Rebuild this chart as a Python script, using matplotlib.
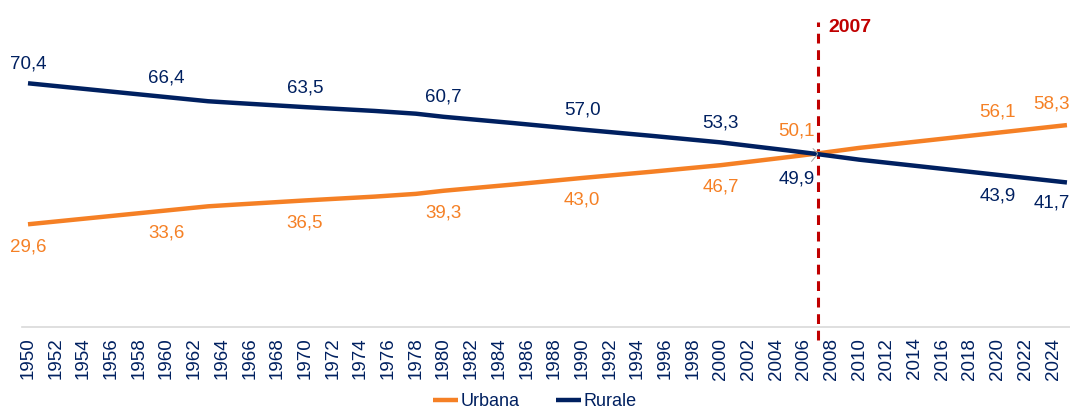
import matplotlib
matplotlib.use("Agg")
import matplotlib.pyplot as plt
import numpy as np

# dati (% della popolazione mondiale)
years = [1950, 1955, 1960, 1963, 1965, 1970, 1975, 1978, 1980, 1985,
         1990, 1995, 2000, 2005, 2007, 2010, 2015, 2020, 2025]
urbana = [29.6, 31.6, 33.6, 34.8, 35.3, 36.5, 37.6, 38.4, 39.3, 41.1,
          43.0, 44.8, 46.7, 49.1, 50.1, 51.7, 53.9, 56.1, 58.3]
rurale = [70.4, 68.4, 66.4, 65.2, 64.7, 63.5, 62.4, 61.6, 60.7, 58.9,
          57.0, 55.2, 53.3, 50.9, 49.9, 48.3, 46.1, 43.9, 41.7]
label_years = [1950, 1960, 1970, 1980, 1990, 2000, 2007, 2020, 2025]
tick_years = list(range(1950, 2025, 2))
anno_chiave = 2007

ORANGE = '#F58025'
NAVY = '#002060'
RED = '#C00000'
FONT = ['Liberation Sans', 'DejaVu Sans']

plt.rcParams['font.family'] = FONT

fig = plt.figure(figsize=(10.7, 4.12), dpi=100)
ax = fig.add_axes([0.0206, 0.2073, 0.9794, 0.755])

ax.plot(years, urbana, color=ORANGE, lw=3.2, solid_capstyle='butt', label='Urbana', zorder=3)
ax.plot(years, rurale, color=NAVY, lw=3.2, solid_capstyle='butt', label='Rurale', zorder=3)

# linea verticale 2007
ax.vlines(anno_chiave, -4, 88, colors=RED, linestyles=(0, (3.2, 2.2)), lw=2.2,
          clip_on=False, zorder=2)
ax.text(anno_chiave + 0.8, 86.5, str(anno_chiave), color=RED, fontsize=14,
        fontweight='bold', ha='left', va='center')

# etichette dei valori
def fmt(v):
    return f"{v:.1f}".replace('.', ',')

LBL = 13.5
for yr in label_years:
    i = years.index(yr)
    u, r = urbana[i], rurale[i]
    if yr == 2007:
        ax.annotate(fmt(u), (yr, u), xytext=(-15, 16), textcoords='offset points',
                    ha='center', va='center', color=ORANGE, fontsize=LBL,
                    arrowprops=dict(arrowstyle='-', color='#A0A0A0', lw=0.7,
                                    shrinkA=6, shrinkB=0))
        ax.annotate(fmt(r), (yr, r), xytext=(-15, -18), textcoords='offset points',
                    ha='center', va='center', color=NAVY, fontsize=LBL,
                    arrowprops=dict(arrowstyle='-', color='#A0A0A0', lw=0.7,
                                    shrinkA=6, shrinkB=0))
    elif yr > 2007:
        dx = -11 if yr == years[-1] else 0
        ax.annotate(fmt(u), (yr, u), xytext=(dx, 15), textcoords='offset points',
                    ha='center', va='center', color=ORANGE, fontsize=LBL)
        ax.annotate(fmt(r), (yr, r), xytext=(dx, -15), textcoords='offset points',
                    ha='center', va='center', color=NAVY, fontsize=LBL)
    else:
        ax.annotate(fmt(r), (yr, r), xytext=(0, 14), textcoords='offset points',
                    ha='center', va='center', color=NAVY, fontsize=LBL)
        ax.annotate(fmt(u), (yr, u), xytext=(0, -16), textcoords='offset points',
                    ha='center', va='center', color=ORANGE, fontsize=LBL)

ax.set_xlim(1949.57, 2025.22)
ax.set_ylim(0, 90)
ax.set_xticks(tick_years)
ax.set_xticklabels([str(y) for y in tick_years], rotation=90, color=NAVY, fontsize=13.5)
ax.tick_params(axis='x', length=0, pad=8)
ax.set_yticks([])
for s in ['top', 'right', 'left']:
    ax.spines[s].set_visible(False)
ax.spines['bottom'].set_color('#D9D9D9')
ax.spines['bottom'].set_linewidth(1.2)

leg = fig.legend(loc='lower center', bbox_to_anchor=(0.5, -0.035), ncol=2, frameon=False,
                 fontsize=13, handlelength=1.4, handletextpad=0.15, columnspacing=2.0)
for t in leg.get_texts():
    t.set_color(NAVY)

fig.savefig('out.png', dpi=100)
